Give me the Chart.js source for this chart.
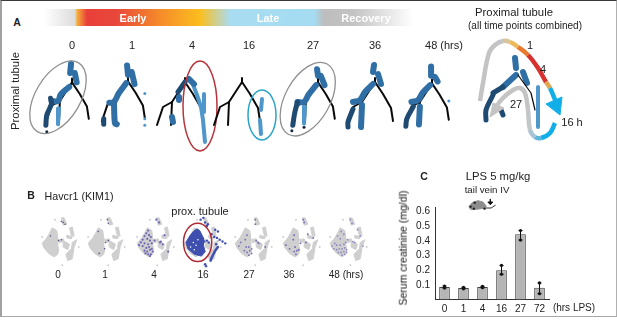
<!DOCTYPE html>
<html>
<head>
<meta charset="utf-8">
<title>Proximal tubule</title>
<script src="https://cdn.jsdelivr.net/npm/chart.js@4"></script>
<style>
  html, body { margin: 0; padding: 0; background: #fff; }
  body { width: 617px; height: 320px; position: relative; overflow: hidden; font-family: "Liberation Sans", Arial, sans-serif; color: #222; filter: blur(0.35px); }
  canvas { position: absolute; }
  .txt { position: absolute; transform: translate(-50%, -50%); white-space: nowrap; line-height: 1; }
  #frame { position: absolute; left: 0; top: 0; width: 614px; height: 315px; border-left: 2px solid #a0a0a0; border-top: 1px solid #3a3a3a; border-right: 1px solid #b0b0b0; border-bottom: 1px solid #a8a8a8; }
  #fase { position: absolute; left: 44px; top: 9px; width: 370px; height: 17px;
    background: linear-gradient(to right, #fff 0, #dcdcdc 31px, #f6b13a 33px, #e9403a 43px, #e8473a 72px, #f58a2a 115px, #fbbe1e 156px, #a9dcf0 186px, #a5dcf2 270px, #bdbdbd 280px, #c4c4c4 310px, #fff 369px); }
</style>
</head>
<body>
<div id="frame"></div>
<div id="fase"></div>
<script>
// panel A: the branching trajectory, in pixels from its apex
const treeStem = [[0, -4], [0, 0]];
const treeLeft = [[0, 0], [-13, 20], [-22, 25], [-28, 43]];
const treeBranch = [[-13, 20], [-14, 43]];
const treeRight = [[0, 0], [8, 12], [16, 26], [18, 39]];

const cells0 = {
  dark: [[[-23, 17], [-22, 23], [-27, 35], [-28, 46]]],
  mid: [[[-1, -20], [-2, -10]], [[3, -10], [5, 0]], [[-3, 5], [-12, 13], [-15, 20], [-22, 20]]],
  light: [[[-14, 28], [-15, 45]]],
  dots: [[-27, 53]]
};
const cells1 = {
  dark: [[[-26, 40], [-26, 46]]],
  mid: [[[-1, -17], [0, -7]], [[4, -10], [7, 3]], [[-2, 2], [-10, 13], [-15, 22], [-20, 23]], [[-15, 25], [-14, 45], [-12, 46]]],
  light: [],
  dots: [[18, 13], [18, 40], [18, 47]]
};
const cells4 = {
  dark: [[[0, 0], [-7, 10]]],
  mid: [[[-6, 15], [-6, 18]], [[-13, 35], [-12, 40]], [[4, -3], [9, 2]]],
  light: [[[7, 0], [12, 13], [16, 25], [18, 38], [20, 60]], [[19, 12], [19, 30]]],
  dots: []
};
const cells16 = {
  dark: [],
  mid: [],
  light: [[[20, 17], [19, 28]], [[18, 38], [19, 52]]],
  dots: []
};
const cells27 = {
  dark: [[[-22, 21], [-25, 33], [-27, 46]]],
  mid: [[[-1, -14], [0, -7]], [[3, -7], [7, 3]], [[-2, 3], [-10, 13], [-15, 21], [-22, 21]]],
  light: [[[-14, 26], [-15, 44]]],
  dots: [[-28, 52], [-15, 48]]
};
const cells36 = {
  dark: [[[-22, 27], [-27, 40], [-27, 45]]],
  mid: [[[-1, -17], [-2, -10]], [[3, -8], [6, 2]], [[-2, 2], [-10, 10], [-15, 18], [-22, 20]], [[-13, 23], [-14, 45]]],
  light: [],
  dots: []
};
const cells48 = {
  dark: [[[-20, 25], [-27, 38], [-28, 46]]],
  mid: [[[-1, -18], [-1, -8]], [[3, -7], [6, -2]], [[-2, 2], [-10, 10], [-15, 18], [-22, 20]], [[-13, 25], [-14, 44]]],
  light: [],
  dots: [[18, 19]]
};
const cellsAll = {
  dark: [[[-25, 20], [-32, 35], [-32, 45]], [[-17, 35], [-15, 40]], [[-15, 12], [-25, 18]]],
  mid: [[[-3, -17], [-2, -7]], [[5, -3], [9, 8]], [[-2, 0], [-15, 12]]],
  light: [[[20, 12], [20, 52]]],
  dots: []
};

// arrows of the combined panel, with one colour per stretch
const arrowOut = [[-38, 26], [-35, 8], [-29, -22], [-23, -30], [-15, -34], [-8, -33], [0, -28], [10, -20], [20, -7], [28, 7], [32, 13], [38, 27]];
const arrowOutColors = ['#c4c4c4', '#c4c4c4', '#c4c4c4', '#c4c4c4', '#d8c49a', '#ecb95a', '#e8792e', '#d8322e', '#d8322e', '#e2a84e', '#12aee8'];
const arrowOutHead = [[44, 22], [42, 40], [28, 29], [44, 22]];
const arrowBack = [[37, 48], [32, 58], [23, 63], [17, 62], [12, 55], [10, 35], [7, 18], [2, 13], [-5, 15], [-15, 23], [-23, 33]];
const arrowBackColors = ['#12aee8', '#12aee8', '#5fb4dc', '#a8c4d4', '#c2c6c8', '#c4c4c4', '#c4c4c4', '#c4c4c4', '#c4c4c4', '#c4c4c4'];
const arrowBackHead = [[-28, 42], [-25, 28], [-14, 33], [-28, 42]];
const thinTree = [[0, 0], [13, 18], [17, 35]];

// panel B: the grey map, in pixels from the middle of the big cluster
const mapMain = [[1, -16], [6, -13], [7, -5], [7, 2], [8, 8], [7, 13], [3, 16], [-3, 12], [-8, 6], [-10, 1], [-5, -5], [-2, -10], [1, -16]];
const mapCenter = [[13, -2], [20, 2], [18, 8], [13, 5], [13, -2]];
const mapRight = [[28, -3], [25, 5], [23, 18], [18, 20], [16, 13], [22, 7], [23, 0], [28, -3]];
const mapTop = [[11, -27], [14, -27], [17, -20], [13, -19], [11, -27]];
const mapStreak = [[20, -16], [23, -17], [25, -7], [22, -7], [20, -16]];
const mapSmall = [[8, -3], [13, -4], [14, -1], [9, 0], [8, -3]];
const mapSmall2 = [[17, -8], [23, -6], [22, -4], [17, -5], [17, -8]];
const mapStray = [[4, -25], [-10, -6], [30, 5], [12, 25]];

const kim0 = [[-1, -7], [11, -23], [13, -22], [15, -20], [8, -2], [11, -3]];
const kim1 = [[1, -12], [12, -21], [11, -25], [12, -2], [9, 0], [8, 7], [2, 12]];
const kim4 = [[2, -13], [0, -10], [3, -8], [-2, -7], [5, -6], [-4, -3], [1, -4], [4, -2], [-6, 0], [-2, 1], [2, 2], [-8, 3], [6, 1], [-4, 4], [0, 6], [3, 5], [-2, 9], [1, 10], [4, 8], [6, 7], [2, 13], [5, 13], [7, 10], [-1, 12], [4, 15], [15, 0], [18, 2], [16, -1], [11, -25], [14, -22], [9, -2], [24, 10], [20, -8]];
const kim16Blob = [[4, -15], [7, -13], [11, -5], [11, 3], [13, 10], [9, 15], [1, 13], [-6, 7], [-8, 0], [-4, -7], [0, -12], [4, -15]];
const kim16Right = [[27, 5], [24, 9], [22, 13], [20, 17], [19, 20]];
const kim16 = [[13, -22], [15, -18], [16, -20], [8, -25], [11, -27], [24, -14], [27, -12], [23, -6], [26, -5], [29, -3], [12, -1], [15, -2], [17, 0], [20, -9], [25, 2], [13, 24], [14, 26], [32, -1], [35, 1]];
const kim16Holes = [[0, 0], [3, 3], [-3, 5], [5, -3], [1, 8]];
const kim27 = [[3, -8], [-4, 0], [2, 5], [5, 5], [0, 9], [3, 11], [6, 9], [8, 12], [5, 14], [1, -3], [13, -2], [15, 0], [16, 1], [8, 7], [12, -25], [-6, 4], [23, 5], [12, -20]];
const kim36 = [[2, -8], [1, -3], [-7, 3], [-3, 7], [3, 5], [5, 9], [2, 10], [4, 13], [7, 8], [12, -25], [13, -22], [17, -9], [23, -5], [9, 1], [15, 0]];
const kim48 = [[2, -12], [5, -9], [-2, -7], [1, -4], [-5, 1], [-8, 4], [-3, 3], [1, 3], [5, 2], [7, 0], [-6, 7], [-3, 8], [0, 7], [3, 7], [6, 6], [8, 8], [-1, 11], [2, 11], [5, 10], [8, 11], [3, 14], [6, 13], [12, -25], [14, -21], [15, -1], [17, 0], [20, -14], [23, -7], [9, -3], [26, 4]];

// panel C: serum creatinine
const lpsHours = ['0', '1', '4', '16', '27', '72'];
const creatinine = [0.085, 0.078, 0.085, 0.2, 0.445, 0.08];
const errLow = [0.078, 0.073, 0.08, 0.172, 0.405, 0.04];
const errHigh = [0.092, 0.083, 0.09, 0.232, 0.47, 0.113];
const yTicks = [0.1, 0.2, 0.3, 0.4, 0.5, 0.6];

// mouse drawing above panel C
const mouseBody = [[6, 16], [10, 10], [17, 7], [23, 9], [27, 15], [26, 18], [15, 20], [8, 20], [6, 16]];
const mouseTail = [[26, 18], [33, 18], [38, 14]];
const mouseArrow = [[32, 5], [32, 10]];
const mouseArrowHead = [[29, 9], [35, 9], [32, 13], [29, 9]];
const mouseDots = [[13, 10], [12, 19], [25, 19], [8, 16]];

const DARK = '#1f4a72';
const MID = '#2f6fa6';
const LIGHT = '#4f97cb';
const GREY_MAP = '#cfcfcf';

function toXY(list) {
  return list.map(p => ({ x: p[0], y: p[1] }));
}

function stroke(list, color, width) {
  return { data: toXY(list), showLine: true, borderColor: color, borderWidth: width, pointRadius: 0, borderCapStyle: 'round', borderJoinStyle: 'round' };
}

function polygon(list, color) {
  return { data: toXY(list), showLine: true, fill: 'shape', backgroundColor: color, borderColor: color, borderWidth: 1, pointRadius: 0 };
}

function dots(list, color, radius) {
  return { data: toXY(list), showLine: false, pointRadius: radius, pointBorderWidth: 0, backgroundColor: color, pointBackgroundColor: color };
}

// coloured line: one colour for each stretch between two points
function tinted(list, colors, width) {
  return {
    data: toXY(list), showLine: true, borderWidth: width, pointRadius: 0, tension: 0.4, borderColor: colors[0],
    segment: { borderColor: ctx => colors[ctx.p0DataIndex] }
  };
}

// rings around the clusters, placed through the scales of the chart
function ringPlugin(rings) {
  return {
    id: 'rings',
    afterDatasetsDraw(chart) {
      const { ctx, scales } = chart;
      rings.forEach(r => {
        const cx = scales.x.getPixelForValue(r.x);
        const cy = scales.y.getPixelForValue(r.y);
        const rx = Math.abs(scales.x.getPixelForValue(r.x + r.rx) - cx);
        const ry = Math.abs(scales.y.getPixelForValue(r.y + r.ry) - cy);
        ctx.save();
        ctx.beginPath();
        ctx.ellipse(cx, cy, rx, ry, r.tilt * Math.PI / 180, 0, Math.PI * 2);
        ctx.strokeStyle = r.color;
        ctx.lineWidth = r.width;
        ctx.stroke();
        ctx.restore();
      });
    }
  };
}

// chart.js paints the first dataset last, so the list is reversed to paint in reading order
function panel(left, top, width, height, xMin, yMin, datasets, rings) {
  const canvas = document.createElement('canvas');
  canvas.style.left = left + 'px';
  canvas.style.top = top + 'px';
  canvas.style.width = width + 'px';
  canvas.style.height = height + 'px';
  document.body.appendChild(canvas);
  return new Chart(canvas, {
    type: 'scatter',
    data: { datasets: datasets.slice().reverse() },
    plugins: [ringPlugin(rings || [])],
    options: {
      responsive: false,
      animation: false,
      devicePixelRatio: 1,
      layout: { padding: 0 },
      plugins: { legend: { display: false }, tooltip: { enabled: false } },
      scales: {
        x: { type: 'linear', display: false, min: xMin, max: xMin + width },
        y: { type: 'linear', display: false, reverse: true, min: yMin, max: yMin + height }
      }
    }
  });
}

function cellSets(cells) {
  const sets = [];
  cells.light.forEach(s => sets.push(stroke(s, LIGHT, 4)));
  cells.mid.forEach(s => sets.push(Object.assign(stroke(s, MID, 6), { tension: 0.35 })));
  cells.dark.forEach(s => sets.push(Object.assign(stroke(s, DARK, 5), { tension: 0.35 })));
  return sets;
}

function tree() {
  return [treeStem, treeLeft, treeBranch, treeRight].map(s => stroke(s, '#0a0a0a', 2));
}

// one small multiple of panel A
function treePanel(apexX, apexY, cells, rings) {
  const dotColor = cells === cells1 || cells === cells48 ? LIGHT : '#10283f';
  const sets = tree().concat(cellSets(cells));
  sets.push(dots(cells.dots, dotColor, 1.5));
  panel(apexX - 60, apexY - 40, 120, 120, -60, -40, sets, rings);
}

treePanel(72, 81, cells0, [{ x: -15, y: 16, rx: 24, ry: 43, tilt: 31, color: '#8f8f8f', width: 1.3 }]);
treePanel(128, 80, cells1);
treePanel(185, 82, cells4, [{ x: 15, y: 24, rx: 17, ry: 45, tilt: 0, color: '#b7343c', width: 1.5 }]);
treePanel(242, 82, cells16, [{ x: 20, y: 33, rx: 14, ry: 25, tilt: 0, color: '#2aa5c8', width: 1.5 }]);
treePanel(318, 81, cells27, [{ x: -11, y: 18, rx: 24, ry: 43, tilt: 29, color: '#8f8f8f', width: 1.3 }]);
treePanel(375, 82, cells36);
treePanel(432, 82, cells48);

// combined panel with the two big arrows
panel(458, 25, 150, 130, -60, -50, cellSets(cellsAll).concat([
  stroke(thinTree, '#0a0a0a', 1.2),
  tinted(arrowOut, arrowOutColors, 4.5),
  polygon(arrowOutHead, '#12aee8'),
  tinted(arrowBack, arrowBackColors, 4.5),
  polygon(arrowBackHead, '#c4c4c4')
]));

// one small multiple of panel B
function mapPanel(x, kim, color, radius, extra, rings) {
  const sets = [mapMain, mapCenter, mapRight, mapTop, mapStreak, mapSmall, mapSmall2].map(s => polygon(s, GREY_MAP));
  sets.push(dots(mapStray, GREY_MAP, 1));
  panel(x - 30, 242 - 40, 90, 90, -30, -40, sets.concat(extra || [], dots(kim, color, radius)), rings);
}

mapPanel(50, kim0, '#55558a', 0.8);
mapPanel(96, kim1, '#55558a', 0.8);
mapPanel(145, kim4, '#6d66b4', 1.1);
mapPanel(192, kim16, '#3f4fb0', 1.2, [
  polygon(kim16Blob, '#3f4fb0'),
  stroke(kim16Right, '#4050b0', 2.5),
  dots(kim16Holes, '#ffffff', 0.8)
], [{ x: 4.7, y: 0, rx: 15.5, ry: 21, tilt: 0, color: '#b22a35', width: 1.5 }]);
mapPanel(243, kim27, '#7670b8', 0.9);
mapPanel(291, kim36, '#6d66b4', 0.9);
mapPanel(338, kim48, '#8f89c8', 0.9);

// mouse above panel C
panel(460, 192, 45, 24, 0, 0, [
  stroke(mouseTail, '#333', 1),
  polygon(mouseBody, '#8d8d8d'),
  stroke(mouseArrow, '#111', 1.4),
  polygon(mouseArrowHead, '#111'),
  dots(mouseDots, '#222', 1.2)
]);

// whiskers of panel C
const whiskers = {
  id: 'whiskers',
  afterDatasetsDraw(chart) {
    const { ctx, scales } = chart;
    ctx.save();
    ctx.strokeStyle = '#111';
    ctx.lineWidth = 1;
    lpsHours.forEach((h, i) => {
      const x = scales.x.getPixelForValue(i);
      const lo = scales.y.getPixelForValue(errLow[i]);
      const hi = scales.y.getPixelForValue(errHigh[i]);
      ctx.beginPath();
      ctx.moveTo(x, lo);
      ctx.lineTo(x, hi);
      ctx.moveTo(x - 2, hi);
      ctx.lineTo(x + 2, hi);
      ctx.moveTo(x - 2, lo);
      ctx.lineTo(x + 2, lo);
      ctx.stroke();
    });
    ctx.restore();
  }
};

const barCanvas = document.createElement('canvas');
barCanvas.style.left = '398px';
barCanvas.style.top = '200px';
barCanvas.style.width = '155px';
barCanvas.style.height = '120px';
document.body.appendChild(barCanvas);

new Chart(barCanvas, {
  type: 'bar',
  data: {
    labels: lpsHours,
    datasets: [
      { type: 'line', data: errLow, showLine: false, pointRadius: 1.6, pointBackgroundColor: '#111', pointBorderWidth: 0, order: 0 },
      { type: 'line', data: errHigh, showLine: false, pointRadius: 1.6, pointBackgroundColor: '#111', pointBorderWidth: 0, order: 0 },
      { data: creatinine, backgroundColor: '#b5b5b5', borderColor: '#444', borderWidth: 1, barPercentage: 0.56, categoryPercentage: 1, order: 1 }
    ]
  },
  plugins: [whiskers],
  options: {
    responsive: false,
    animation: false,
    devicePixelRatio: 1,
    layout: { padding: { top: 4, right: 0, left: 0, bottom: 0 } },
    plugins: { legend: { display: false }, tooltip: { enabled: false } },
    scales: {
      x: {
        grid: { display: false, drawTicks: false },
        border: { color: '#333', width: 1 },
        ticks: { color: '#222', padding: 4, font: { family: 'Liberation Sans', size: 10 }, maxRotation: 0 },
        afterFit(scale) { scale.height = 20.5; }
      },
      y: {
        min: 0,
        max: 0.63,
        grid: { display: false, tickLength: 4, tickColor: '#333' },
        border: { color: '#333', width: 1 },
        ticks: { color: '#222', padding: 1, font: { family: 'Liberation Sans', size: 10 }, callback: v => v.toFixed(1) },
        afterBuildTicks(scale) { scale.ticks = yTicks.map(value => ({ value })); },
        afterFit(scale) { scale.width = 37; }
      }
    }
  }
});

// all the text of the figure
function addText(text, x, y, size, extra) {
  const el = document.createElement('div');
  el.className = 'txt';
  el.textContent = text;
  el.style.left = x + 'px';
  el.style.top = y + 'px';
  el.style.fontSize = size + 'px';
  Object.assign(el.style, extra || {});
  document.body.appendChild(el);
}

const BOLD = { fontWeight: 'bold' };
const BANNER = { fontWeight: 'bold', color: '#fff' };
const UPRIGHT = { transform: 'translate(-50%, -50%) rotate(-90deg)' };

addText('A', 17, 22, 10.5, BOLD);
addText('Early', 133, 18, 11, BANNER);
addText('Late', 268, 18, 11, BANNER);
addText('Recovery', 366, 18, 11, BANNER);
addText('Proximal tubule', 16, 91, 11.3, UPRIGHT);

const hourLabels = ['0', '1', '4', '16', '27', '36', '48 (hrs)'];
const hourX = [72, 132, 192, 249, 313, 375, 444];
hourLabels.forEach((h, i) => addText(h, hourX[i], 45, 11));

addText('Proximal tubule', 514, 13, 11.3);
addText('(all time points combined)', 525, 26, 10);
addText('1', 530, 45, 11);
addText('4', 543, 69, 11);
addText('27', 516, 104, 11);
addText('16 h', 572, 122, 11);

addText('B', 31, 195, 10.5, BOLD);
addText('Havcr1 (KIM1)', 79, 196, 10.7);
addText('prox. tubule', 200, 211, 11);

const mapLabels = ['0', '1', '4', '16', '27', '36', '48 (hrs)'];
const mapX = [58, 105, 154, 203, 249, 289, 346];
mapLabels.forEach((h, i) => addText(h, mapX[i], 275, 10));

addText('C', 424, 176, 10.5, BOLD);
addText('LPS 5 mg/kg', 498, 177, 11.3);
addText('tail vein IV', 487, 190, 9.7);
addText('Serum creatinine (mg/dl)', 403, 248, 10.5, Object.assign({ color: '#111' }, UPRIGHT));
addText('(hrs LPS)', 574, 308, 10);
</script>
</body>
</html>
